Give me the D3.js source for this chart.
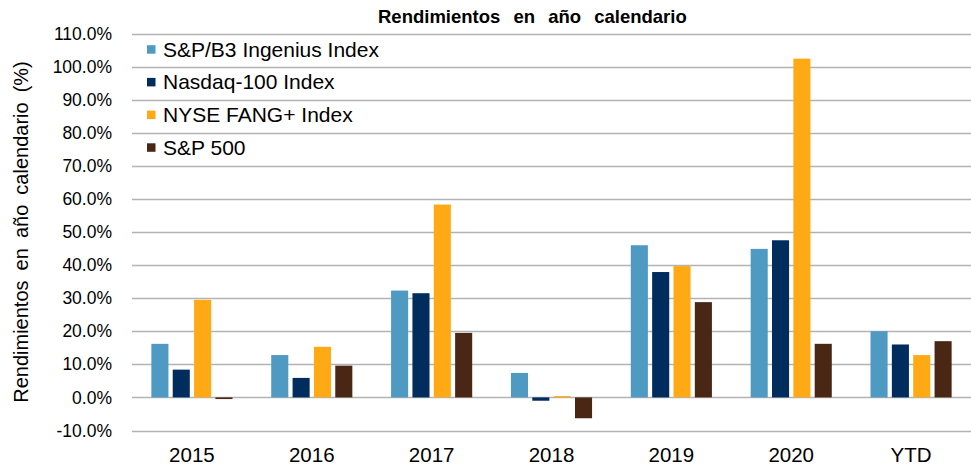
<!DOCTYPE html>
<html><head><meta charset="utf-8">
<script src="https://cdn.jsdelivr.net/npm/d3@7"></script>
<style>body{margin:0;background:#fff}svg{display:block;font-family:"Liberation Sans",Arial,sans-serif}</style>
</head><body><svg id="c" width="971" height="468"></svg>
<script>
const categories = ["2015","2016","2017","2018","2019","2020","YTD"];
const seriesNames = ["S&P/B3 Ingenius Index","Nasdaq-100 Index","NYSE FANG+ Index","S&P 500"];
const seriesColors = ["#4F9AC2","#002D5E","#FFAA15","#4A2614"];
const ingenius = [16.2, 12.8, 32.3, 7.4, 46.0, 44.9, 20.0];
const nasdaq   = [8.4, 5.9, 31.5, -1.0, 37.9, 47.5, 16.0];
const fang     = [29.5, 15.3, 58.3, 0.4, 39.7, 102.4, 12.8];
const sp500    = [-0.5, 9.6, 19.5, -6.3, 28.8, 16.2, 17.0];
const yTicks = [-10,0,10,20,30,40,50,60,70,80,90,100,110];
const series = [ingenius, nasdaq, fang, sp500];

const svg = d3.select("#c");
const mLeft = 132, mRight = 971, mTop = 33.5, mBottom = 430.5;
const y = d3.scaleLinear().domain([-10,110]).range([mBottom, mTop]);
const x = d3.scaleBand().domain(categories).range([mLeft, mRight]).paddingInner(0).paddingOuter(0);
const x1 = d3.scaleBand().domain(d3.range(series.length)).range([18.3, x.bandwidth()-18.3]).paddingInner(0.2).paddingOuter(0.05);

// gridlines
svg.append("g").selectAll("line").data(yTicks).join("line")
  .attr("x1", mLeft).attr("x2", mRight)
  .attr("y1", d=>Math.round(y(d))+0.5).attr("y2", d=>Math.round(y(d))+0.5)
  .attr("stroke","#b3b3b3").attr("stroke-width",1.6);

// y axis labels
svg.append("g").selectAll("text").data(yTicks).join("text")
  .attr("x", 112).attr("y", d=>y(d)).attr("dy","0.35em")
  .attr("text-anchor","end").attr("font-size",17.5).attr("fill","#000")
  .text(d=>d.toFixed(1)+"%");

// bars
const g = svg.append("g");
series.forEach((vals,i)=>{
  g.append("g").selectAll("rect").data(vals).join("rect")
    .attr("x",(d,j)=>x(categories[j])+x1(i))
    .attr("width",x1.bandwidth())
    .attr("y",d=>y(Math.max(0,d)))
    .attr("height",d=>Math.abs(y(d)-y(0)))
    .attr("fill",seriesColors[i]);
});

// x labels
svg.append("g").selectAll("text").data(categories).join("text")
  .attr("x", d=>x(d)+x.bandwidth()/2).attr("y", 462)
  .attr("text-anchor","middle").attr("font-size",20.5).attr("fill","#000")
  .text(d=>d);

// title
svg.append("text").attr("x",378).attr("y",22.7).attr("text-anchor","start")
  .attr("font-size",18.5).attr("font-weight","bold").attr("fill","#000")
  .attr("word-spacing","8px")
  .text("Rendimientos en año calendario");

// y title
svg.append("text").attr("transform","translate(28,232) rotate(-90)")
  .attr("text-anchor","middle").attr("font-size",20).attr("fill","#000")
  .attr("word-spacing","4.5px")
  .text("Rendimientos en año calendario (%)");

// legend
const lg = svg.append("g");
seriesNames.forEach((n,i)=>{
  const base = 56.7 + i*32.7;
  lg.append("rect").attr("x",147).attr("y",base-11.5).attr("width",8.5).attr("height",8.5).attr("fill",seriesColors[i]);
  lg.append("text").attr("x",163).attr("y",base).attr("font-size",21).attr("fill","#000").text(n);
});
</script></body></html>
